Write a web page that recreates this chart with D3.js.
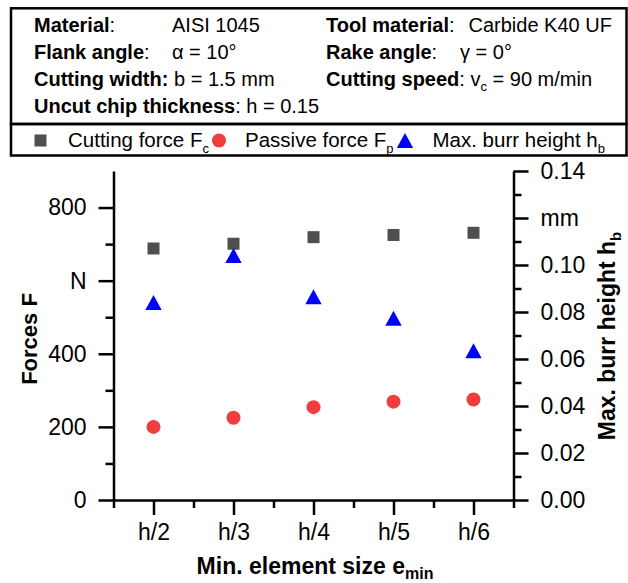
<!DOCTYPE html>
<html>
<head>
<meta charset="utf-8">
<script src="https://cdn.jsdelivr.net/npm/d3@7"></script>
<style>
body{margin:0;background:#fff;}
svg{display:block;font-family:"Liberation Sans",Arial,sans-serif;}
</style>
</head>
<body>
<div id="chart"></div>
<script>
// ---- data ----
var categories = ['h/2', 'h/3', 'h/4', 'h/5', 'h/6'];
var cuttingForce = [688, 701, 719, 725, 731];              // N
var passiveForce = [200, 225, 254, 269, 275];              // N
var burrHeight = [0.084, 0.104, 0.0865, 0.0773, 0.0635];   // mm
var forceTicks = [0, 200, 400, 600, 800];
var forceMinorTicks = [100, 300, 500, 700];
var burrTicks = [0, 0.02, 0.04, 0.06, 0.08, 0.10, 0.12, 0.14];
var burrMinorTicks = [0.01, 0.03, 0.05, 0.07, 0.09, 0.11, 0.13];

var colors = {fc:'#4f4f4f', fp:'#f03d3d', hb:'#0000ff'};

var width = 628, height = 583;
var plot = {left:113.5, right:513.5, top:171, bottom:500};

var svg = d3.select('#chart').append('svg')
    .attr('width', width)
    .attr('height', height);

// ---- header box ----
var infoRows = [
    [{t:'Material', b:1, x:34}, {t:':'}, {t:'AISI 1045', x:172}, {t:'Tool material', b:1, x:326}, {t:':'}, {t:'Carbide K40 UF', x:468.5}],
    [{t:'Flank angle', b:1, x:34}, {t:':'}, {t:'\u03b1 = 10\u00b0', x:172}, {t:'Rake angle', b:1, x:326}, {t:':'}, {t:'\u03b3 = 0\u00b0', x:460}],
    [{t:'Cutting width:', b:1, x:34}, {t:' b = 1.5 mm'}, {t:'Cutting speed', b:1, x:326}, {t:': v'}, {t:'c', sub:1}, {t:' = 90 m/min'}],
    [{t:'Uncut chip thickness', b:1, x:34}, {t:': h = 0.15'}]
];
var rowY = [31.5, 59, 85.5, 113];

function writeSegments($text, segs, fs){
    for(var i=0; i<segs.length; i++){
        var s = segs[i];
        var $t = $text.append('tspan').text(s.t);
        if(s.x !== undefined) $t.attr('x', s.x);
        if(s.b) $t.attr('font-weight', 'bold');
        if(s.sub){
            $t.attr('font-size', fs*0.65).attr('dy', 5);
            segs[i+1] && (segs[i+1].dy = -5);
        }
        if(s.dy) $t.attr('dy', s.dy);
    }
}

svg.append('rect')
    .attr('x', 11).attr('y', 8.3)
    .attr('width', 615.5).attr('height', 115.7)
    .attr('fill', 'none').attr('stroke', '#000').attr('stroke-width', 2.5);
svg.append('rect')
    .attr('x', 11).attr('y', 124)
    .attr('width', 615.5).attr('height', 31.5)
    .attr('fill', 'none').attr('stroke', '#000').attr('stroke-width', 2.5);

for(var r=0; r<infoRows.length; r++){
    var $row = svg.append('text')
        .attr('y', rowY[r])
        .attr('font-size', 20)
        .style('white-space', 'pre');
    writeSegments($row, infoRows[r], 20);
}

// ---- legend ----
var legendItems = [
    {name:'Cutting force F', sub:'c', shape:'square', color:colors.fc},
    {name:'Passive force F', sub:'p', shape:'circle', color:colors.fp},
    {name:'Max. burr height h', sub:'b', shape:'triangle', color:colors.hb}
];
var legendMarkX = [40.5, 219, 405];
var legendTextX = [68, 245, 432.5];
var legendY = 140.5;

function drawMarker($g, shape, color){
    if(shape === 'square'){
        $g.append('rect').attr('x', -6).attr('y', -6).attr('width', 12).attr('height', 12).attr('fill', color);
    }else if(shape === 'circle'){
        $g.append('circle').attr('r', 7).attr('fill', color);
    }else{
        $g.append('path').attr('d', 'M0,-7.5L8.2,7.5L-8.2,7.5Z').attr('fill', color);
    }
}

for(var i=0; i<legendItems.length; i++){
    var it = legendItems[i];
    drawMarker(svg.append('g').attr('transform', 'translate('+legendMarkX[i]+','+legendY+')'), it.shape, it.color);
    var $lt = svg.append('text')
        .attr('x', legendTextX[i]).attr('y', legendY + 6.5)
        .attr('font-size', 20.5);
    $lt.append('tspan').text(it.name);
    $lt.append('tspan').attr('font-size', 13).attr('dy', 6).text(it.sub);
}

// ---- scales ----
var x = d3.scaleLinear().domain([0.5, categories.length + 0.5]).range([plot.left, plot.right]);
var yF = d3.scaleLinear().domain([0, 900]).range([plot.bottom, plot.top]);
var yH = d3.scaleLinear().domain([0, 0.14]).range([plot.bottom, plot.top]);

function styleAxis($g){
    $g.selectAll('path, line').attr('stroke', '#000').attr('stroke-width', 2.5);
    $g.selectAll('text').attr('font-size', 23).attr('fill', '#000')
        .attr('font-family', '"Liberation Sans",Arial,sans-serif');
}

// x axis
var catIndex = categories.map(function(d, i){ return i + 1; });
var xMinor = [];
for(var i=0; i<=categories.length; i++){ xMinor.push(i + 0.5); }
var $xMinor = svg.append('g').attr('transform', 'translate(0,'+plot.bottom+')')
    .call(d3.axisBottom(x).tickValues(xMinor).tickSize(8).tickSizeOuter(0).tickFormat(''));
$xMinor.select('.domain').remove();
styleAxis($xMinor);
var $xAxis = svg.append('g').attr('transform', 'translate(0,'+plot.bottom+')')
    .call(d3.axisBottom(x).tickValues(catIndex).tickSize(15).tickSizeOuter(0).tickPadding(9)
        .tickFormat(function(d){ return categories[d-1]; }));
styleAxis($xAxis);

// left axis
var $yMinor = svg.append('g').attr('transform', 'translate('+plot.left+',0)')
    .call(d3.axisLeft(yF).tickValues(forceMinorTicks).tickSize(8).tickFormat(''));
$yMinor.select('.domain').remove();
styleAxis($yMinor);
var $yAxis = svg.append('g').attr('transform', 'translate('+plot.left+',0)')
    .call(d3.axisLeft(yF).tickValues(forceTicks).tickSize(15).tickSizeOuter(0).tickPadding(12)
        .tickFormat(function(d){ return d === 600 ? 'N' : d; }));
styleAxis($yAxis);

// right axis
var $hMinor = svg.append('g').attr('transform', 'translate('+plot.right+',0)')
    .call(d3.axisRight(yH).tickValues(burrMinorTicks).tickSize(8).tickFormat(''));
$hMinor.select('.domain').remove();
styleAxis($hMinor);
var $hAxis = svg.append('g').attr('transform', 'translate('+plot.right+',0)')
    .call(d3.axisRight(yH).tickValues(burrTicks).tickSize(15).tickSizeOuter(0).tickPadding(12)
        .tickFormat(function(d){ return Math.abs(d - 0.12) < 1e-9 ? 'mm' : d3.format('.2f')(d); }));
styleAxis($hAxis);

// ---- axis titles ----
svg.append('text')
    .attr('transform', 'translate(37,339) rotate(-90)')
    .attr('text-anchor', 'middle')
    .attr('font-size', 22).attr('font-weight', 'bold')
    .text('Forces F');

var $rt = svg.append('text')
    .attr('transform', 'translate(615,336) rotate(-90)')
    .attr('text-anchor', 'middle')
    .attr('font-size', 23).attr('font-weight', 'bold');
$rt.append('tspan').text('Max. burr height h');
$rt.append('tspan').attr('font-size', 15).attr('dy', 6).text('b');

var $xt = svg.append('text')
    .attr('x', 315).attr('y', 573.5)
    .attr('text-anchor', 'middle')
    .attr('font-size', 23).attr('font-weight', 'bold');
$xt.append('tspan').text('Min. element size e');
$xt.append('tspan').attr('font-size', 16).attr('dy', 5).text('min');

// ---- data points ----
var $pts = svg.append('g');
$pts.selectAll('rect.fc').data(cuttingForce).enter().append('rect')
    .attr('class', 'fc')
    .attr('x', function(d, i){ return x(i + 1) - 6; })
    .attr('y', function(d){ return yF(d) - 6; })
    .attr('width', 12).attr('height', 12)
    .attr('fill', colors.fc);
$pts.selectAll('circle.fp').data(passiveForce).enter().append('circle')
    .attr('class', 'fp')
    .attr('cx', function(d, i){ return x(i + 1); })
    .attr('cy', function(d){ return yF(d); })
    .attr('r', 7)
    .attr('fill', colors.fp);
$pts.selectAll('path.hb').data(burrHeight).enter().append('path')
    .attr('class', 'hb')
    .attr('transform', function(d, i){ return 'translate('+x(i + 1)+','+yH(d)+')'; })
    .attr('d', 'M0,-7.5L8.2,7.5L-8.2,7.5Z')
    .attr('fill', colors.hb);
</script>
</body>
</html>
